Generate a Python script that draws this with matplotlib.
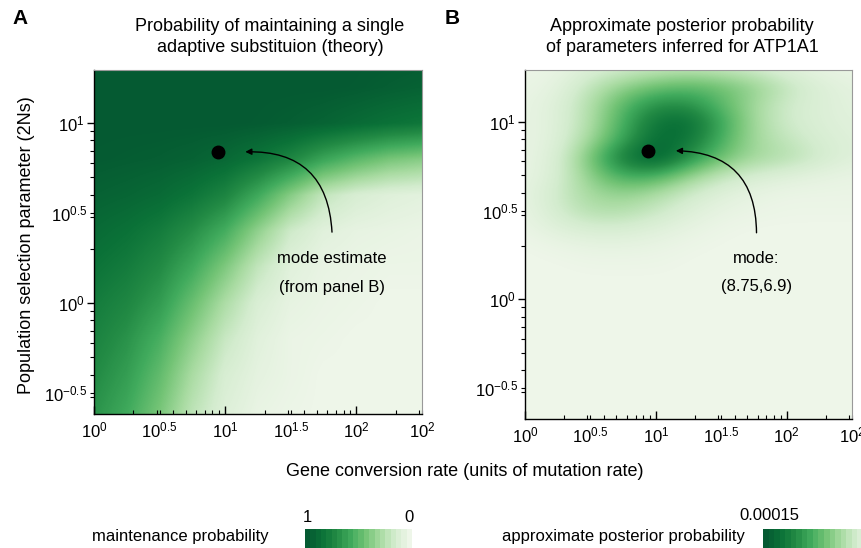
import numpy as np
import matplotlib
matplotlib.use('Agg')
import matplotlib.pyplot as plt
from matplotlib.colors import LinearSegmentedColormap

plt.rcParams['font.family'] = ['Liberation Sans', 'DejaVu Sans']
plt.rcParams['mathtext.fontset'] = 'custom'
plt.rcParams['mathtext.rm'] = 'Liberation Sans'
plt.rcParams['mathtext.it'] = 'Liberation Sans:italic'

#### data (axes are in log10 units)
# gene conversion rate grid, log10
log_conv = [0.0, 0.25, 0.5, 0.75, 1.0, 1.25, 1.5, 1.75, 2.0, 2.25, 2.5]

# panel A: 2Ns grid (log10) and maintenance probability, bottom row first
log_sel_a = [-0.6, -0.4, -0.2, 0.0, 0.2, 0.4, 0.6, 0.8, 1.0, 1.2, 1.4]
maint_prob = [
    [0.68, 0.58, 0.42, 0.22, 0.09, 0.03, 0.01, 0.00, 0.00, 0.00, 0.00],
    [0.72, 0.63, 0.48, 0.28, 0.12, 0.05, 0.02, 0.00, 0.00, 0.00, 0.00],
    [0.76, 0.68, 0.55, 0.36, 0.18, 0.07, 0.02, 0.01, 0.00, 0.00, 0.00],
    [0.80, 0.74, 0.64, 0.46, 0.27, 0.11, 0.04, 0.02, 0.01, 0.00, 0.00],
    [0.85, 0.80, 0.72, 0.58, 0.40, 0.20, 0.07, 0.03, 0.02, 0.01, 0.01],
    [0.90, 0.86, 0.80, 0.70, 0.56, 0.35, 0.16, 0.07, 0.04, 0.03, 0.02],
    [0.95, 0.93, 0.90, 0.84, 0.75, 0.58, 0.38, 0.20, 0.12, 0.08, 0.06],
    [0.99, 0.98, 0.97, 0.95, 0.91, 0.84, 0.74, 0.60, 0.50, 0.42, 0.38],
    [1.00, 1.00, 1.00, 1.00, 1.00, 0.99, 0.97, 0.94, 0.90, 0.86, 0.83],
    [1.00, 1.00, 1.00, 1.00, 1.00, 1.00, 1.00, 1.00, 0.99, 0.97, 0.95],
    [1.00, 1.00, 1.00, 1.00, 1.00, 1.00, 1.00, 1.00, 1.00, 1.00, 1.00],
]

# panel B: 2Ns grid (log10) and posterior (relative to max 0.00015), bottom row first
log_sel_b = [-0.8, -0.7, -0.6, -0.5, -0.4, -0.3, -0.2, -0.1, 0.0, 0.1,
             0.2, 0.3, 0.4, 0.5, 0.6, 0.7, 0.8, 0.9, 1.0, 1.1, 1.2, 1.3, 1.4]
posterior = [
    [0.00, 0.00, 0.00, 0.00, 0.00, 0.00, 0.00, 0.00, 0.00, 0.00, 0.00],
    [0.00, 0.00, 0.00, 0.00, 0.00, 0.00, 0.00, 0.00, 0.00, 0.00, 0.00],
    [0.00, 0.00, 0.00, 0.00, 0.00, 0.00, 0.00, 0.00, 0.00, 0.00, 0.00],
    [0.00, 0.00, 0.00, 0.00, 0.00, 0.00, 0.00, 0.00, 0.00, 0.00, 0.00],
    [0.00, 0.00, 0.00, 0.00, 0.00, 0.00, 0.00, 0.00, 0.00, 0.00, 0.00],
    [0.00, 0.00, 0.00, 0.00, 0.00, 0.00, 0.00, 0.00, 0.00, 0.00, 0.00],
    [0.00, 0.00, 0.00, 0.00, 0.00, 0.00, 0.00, 0.00, 0.00, 0.00, 0.00],
    [0.00, 0.00, 0.00, 0.00, 0.00, 0.00, 0.00, 0.00, 0.00, 0.00, 0.00],
    [0.00, 0.00, 0.00, 0.00, 0.00, 0.00, 0.00, 0.00, 0.00, 0.00, 0.00],
    [0.00, 0.00, 0.00, 0.00, 0.00, 0.00, 0.00, 0.00, 0.00, 0.00, 0.00],
    [0.00, 0.00, 0.01, 0.01, 0.01, 0.00, 0.00, 0.00, 0.00, 0.00, 0.00],
    [0.00, 0.02, 0.04, 0.04, 0.03, 0.01, 0.00, 0.00, 0.00, 0.00, 0.00],
    [0.02, 0.08, 0.12, 0.12, 0.08, 0.04, 0.01, 0.00, 0.00, 0.00, 0.00],
    [0.03, 0.14, 0.25, 0.25, 0.18, 0.09, 0.04, 0.02, 0.01, 0.01, 0.01],
    [0.04, 0.15, 0.30, 0.35, 0.28, 0.16, 0.08, 0.04, 0.02, 0.02, 0.02],
    [0.03, 0.11, 0.36, 0.58, 0.56, 0.35, 0.20, 0.12, 0.08, 0.05, 0.03],
    [0.03, 0.10, 0.42, 0.82, 1.00, 0.70, 0.45, 0.30, 0.25, 0.15, 0.08],
    [0.03, 0.08, 0.30, 0.60, 0.90, 0.85, 0.55, 0.30, 0.20, 0.12, 0.08],
    [0.03, 0.08, 0.25, 0.55, 0.85, 0.90, 0.60, 0.30, 0.15, 0.10, 0.07],
    [0.03, 0.08, 0.25, 0.50, 0.70, 0.70, 0.50, 0.30, 0.15, 0.10, 0.06],
    [0.02, 0.05, 0.20, 0.35, 0.45, 0.50, 0.45, 0.35, 0.20, 0.10, 0.05],
    [0.01, 0.03, 0.10, 0.15, 0.20, 0.22, 0.20, 0.15, 0.08, 0.04, 0.02],
    [0.00, 0.01, 0.04, 0.06, 0.08, 0.08, 0.07, 0.05, 0.03, 0.02, 0.01],
]

# mode estimate (gene conversion rate, 2Ns)
mode_conv = 8.75
mode_sel = 6.9

x_labels = ['$10^{0}$', '$10^{0.5}$', '$10^{1}$', '$10^{1.5}$', '$10^{2}$', '$10^{2}$']
y_labels = ['$10^{-0.5}$', '$10^{0}$', '$10^{0.5}$', '$10^{1}$']

greens = LinearSegmentedColormap.from_list(
    'greens', ['#eef6e9', '#d3ecce', '#a8dba1', '#74c476', '#41ab5d',
               '#238b45', '#0b7238', '#055a32'])

W, H = 861, 548
fig = plt.figure(figsize=(W / 100, H / 100), dpi=100)


def px_axes(l, t, r, b):
    return fig.add_axes([l / W, 1 - b / H, (r - l) / W, (b - t) / H])


def heat(ax, grid_y, vals, interp):
    dx = log_conv[1] - log_conv[0]
    dy = grid_y[1] - grid_y[0]
    ext = (log_conv[0] - dx / 2, log_conv[-1] + dx / 2, grid_y[0] - dy / 2, grid_y[-1] + dy / 2)
    ax.imshow(np.array(vals), origin='lower', extent=ext, aspect='auto',
              cmap=greens, vmin=0, vmax=1, interpolation=interp)


def style(ax, ylo, yhi):
    ax.set_xlim(0, 2.5)
    ax.set_ylim(ylo, yhi)
    # x axis: decades as major ticks, half decades labelled among minor ticks
    ax.set_xticks([0, 1, 2], labels=[x_labels[0], x_labels[2], x_labels[4]])
    xmin = [d + np.log10(m) for d in range(0, 3) for m in range(2, 10) if d + np.log10(m) <= 2.5]
    xmin += [0.5, 1.5, 2.5]
    xmin = sorted(xmin)
    lab = {0.5: x_labels[1], 1.5: x_labels[3], 2.5: x_labels[5]}
    ax.set_xticks(xmin, labels=[lab.get(v, '') for v in xmin], minor=True)
    ax.set_yticks([0, 1], labels=[y_labels[1], y_labels[3]])
    ymin = [d + np.log10(m) for d in range(-1, 2) for m in range(2, 10) if ylo <= d + np.log10(m) <= yhi]
    ymin += [-0.5, 0.5]
    ymin = sorted(ymin)
    lab = {-0.5: y_labels[0], 0.5: y_labels[2]}
    ax.set_yticks(ymin, labels=[lab.get(v, '') for v in ymin], minor=True)
    ax.tick_params(axis='x', which='both', direction='in', labelsize=12, pad=5)
    ax.tick_params(axis='x', which='major', length=6, width=1)
    ax.tick_params(axis='x', which='minor', length=3, width=0.8)
    ax.tick_params(axis='y', which='both', direction='out', labelsize=12, pad=2)
    ax.tick_params(axis='y', which='major', length=5, width=1)
    ax.tick_params(axis='y', which='minor', length=3, width=0.8)
    for s in ['top', 'right']:
        ax.spines[s].set_color('#999999')
        ax.spines[s].set_linewidth(0.8)
    for s in ['left', 'bottom']:
        ax.spines[s].set_linewidth(1.0)


def mark_mode(ax, start, t1, t2):
    mx, my = np.log10(mode_conv), np.log10(mode_sel)
    ax.plot(mx, my, 'o', color='black', markersize=9)
    ax.annotate('', xy=(mx + 0.19, my), xytext=start,
                arrowprops=dict(arrowstyle='-|>', connectionstyle='arc3,rad=0.5',
                                color='black', lw=1, mutation_scale=9))
    ax.text(start[0], start[1] - 0.13, t1, ha='center', va='center', fontsize=12)
    ax.text(start[0], start[1] - 0.29, t2, ha='center', va='center', fontsize=12)


#%% panel A
axA = px_axes(94, 70, 422, 414)
heat(axA, log_sel_a, maint_prob, 'bilinear')
style(axA, -0.617, 1.294)
mark_mode(axA, (1.815, 0.378), 'mode estimate', '(from panel B)')

#%% panel B
axB = px_axes(525, 70, 852, 419)
heat(axB, log_sel_b, posterior, 'bicubic')
style(axB, -0.675, 1.294)
mark_mode(axB, (1.77, 0.36), 'mode:', '(%.2f,%.1f)' % (mode_conv, mode_sel))

#%% titles and labels
fig.text(12 / W, 1 - 18 / H, 'A', fontsize=15, fontweight='bold', va='center')
fig.text(445 / W, 1 - 18 / H, 'B', fontsize=15, fontweight='bold', va='center')
fig.text(270 / W, 1 - 37 / H, 'Probability of maintaining a single\nadaptive substituion (theory)',
         ha='center', va='center', fontsize=13, linespacing=1.25)
fig.text(682 / W, 1 - 37 / H, 'Approximate posterior probability\nof parameters inferred for ATP1A1',
         ha='center', va='center', fontsize=13, linespacing=1.25)
fig.text(27 / W, 1 - 245 / H, 'Population selection parameter (2Ns)', rotation=90,
         ha='center', va='center', fontsize=13)
fig.text(465 / W, 1 - 472 / H, 'Gene conversion rate (units of mutation rate)',
         ha='center', va='center', fontsize=13)

#%% colour keys
steps = np.arange(20)[::-1].reshape(1, -1)
keyA = px_axes(305, 529, 412, 556)
keyA.imshow(steps, cmap=greens, aspect='auto', interpolation='nearest')
keyA.axis('off')
fig.text(307 / W, 1 - 517 / H, '1', ha='center', va='center', fontsize=12)
fig.text(409 / W, 1 - 517 / H, '0', ha='center', va='center', fontsize=12)
fig.text(180 / W, 1 - 537 / H, 'maintenance probability', ha='center', va='center', fontsize=12)

keyB = px_axes(763, 529, 873, 556)
keyB.imshow(steps, cmap=greens, aspect='auto', interpolation='nearest')
keyB.axis('off')
fig.text(769 / W, 1 - 515 / H, '0.00015', ha='center', va='center', fontsize=12)
fig.text(745 / W, 1 - 537 / H, 'approximate posterior probability', ha='right', va='center', fontsize=12)

fig.savefig('out.png', dpi=100)
